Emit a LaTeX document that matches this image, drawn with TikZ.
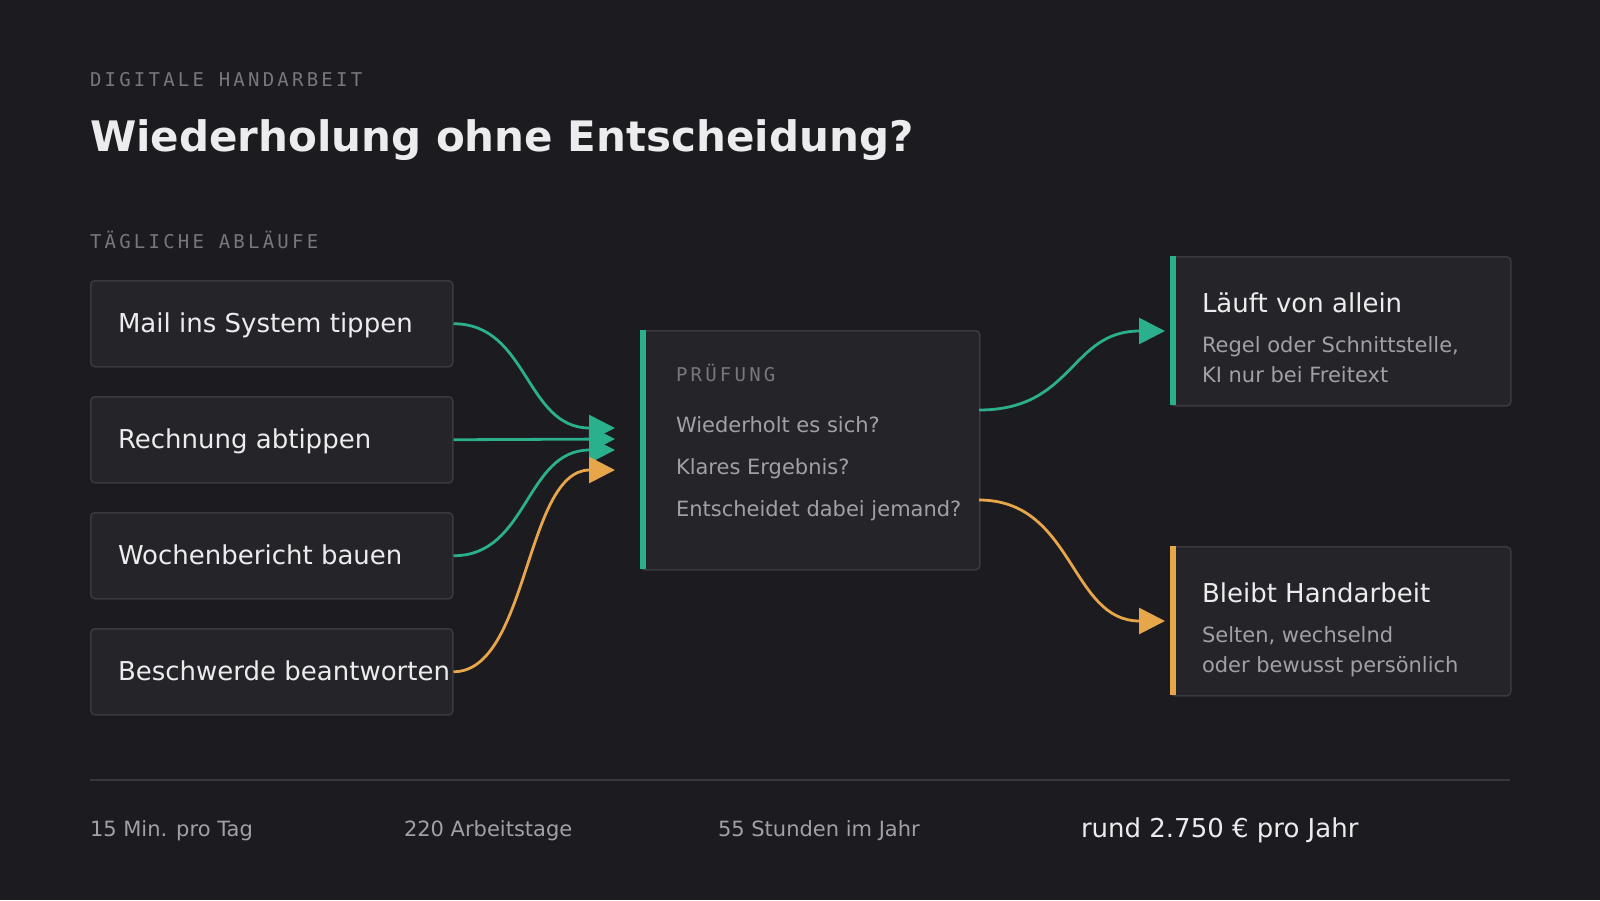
\documentclass[tikz,border=0pt]{standalone}
\usepackage{fontspec}
\setmainfont{DejaVu Sans}
\newfontfamily\labelfont[LetterSpace=17]{DejaVu Sans Mono}
\usetikzlibrary{arrows.meta,calc}
\definecolor{bg}{HTML}{1C1B20}
\definecolor{boxfill}{HTML}{252429}
\definecolor{boxline}{HTML}{3A393F}
\definecolor{accgreen}{HTML}{2BB08D}
\definecolor{accorange}{HTML}{E8A64A}
\definecolor{txtwhite}{HTML}{ECECEE}
\definecolor{txtgray}{HTML}{A0A0A6}
\definecolor{txtlabel}{HTML}{77777D}
\definecolor{rulecol}{HTML}{38383E}
\tikzset{
  card/.style={draw=boxline, line width=1.5pt, fill=boxfill, rounded corners=4pt, anchor=north west, inner sep=0pt},
  txt/.style={anchor=base west, inner sep=0pt, outer sep=0pt},
  kicker/.style={txt, text=txtlabel, font=\labelfont\fontsize{19}{22}\selectfont},
  itemtxt/.style={txt, text=txtwhite, font=\fontsize{26}{30}\selectfont},
  qtxt/.style={txt, text=txtgray, font=\fontsize{21}{25}\selectfont},
  foottxt/.style={txt, text=txtgray, font=\fontsize{21}{25}\selectfont},
  flow/.style={line width=2.8pt, -{Triangle[length=26pt,width=26pt]}},
}
\begin{document}
\begin{tikzpicture}[x=1pt,y=-1pt]
\fill[bg] (0,0) rectangle (1600,900);
\useasboundingbox (0,0) rectangle (1600,900);

% header
\node[kicker] (kick) at (90,86) {DIGITALE HANDARBEIT};
\node[txt, text=txtwhite, font=\fontsize{42}{50}\selectfont\bfseries] (title) at (90,151) {Wiederholung ohne Entscheidung?};
\node[kicker] (kick2) at (90,248) {TÄGLICHE ABLÄUFE};

% left cards
\node[card, minimum width=362pt, minimum height=86pt] (b1) at (90,280) {};
\node[card, minimum width=362pt, minimum height=86pt] (b2) at (90,396) {};
\node[card, minimum width=362pt, minimum height=86pt] (b3) at (90,512) {};
\node[card, minimum width=362pt, minimum height=86pt] (b4) at (90,628) {};
\node[itemtxt] (t1) at (118,332) {Mail ins System tippen};
\node[itemtxt] (t2) at (118,448) {Rechnung abtippen};
\node[itemtxt] (t3) at (118,564) {Wochenbericht bauen};
\node[itemtxt] (t4) at (118,680) {Beschwerde beantworten};

% middle card
\node[card, minimum width=339pt, minimum height=239pt] (m) at (640,330) {};
\fill[accgreen] (640,330) rectangle (646,569);
\node[kicker] (mk) at (676,381) {PRÜFUNG};
\node[qtxt] (q1) at (676,432) {Wiederholt es sich?};
\node[qtxt] (q2) at (676,474) {Klares Ergebnis?};
\node[qtxt] (q3) at (676,516) {Entscheidet dabei jemand?};

% right cards
\node[card, minimum width=340pt, minimum height=149pt] (r1) at (1170,256) {};
\fill[accgreen] (1170,256) rectangle (1176,405);
\node[itemtxt] (r1t) at (1202,312) {Läuft von allein};
\node[qtxt] (r1a) at (1202,352) {Regel oder Schnittstelle,};
\node[qtxt] (r1b) at (1202,382) {KI nur bei Freitext};

\node[card, minimum width=340pt, minimum height=149pt] (r2) at (1170,546) {};
\fill[accorange] (1170,546) rectangle (1176,695);
\node[itemtxt] (r2t) at (1202,602) {Bleibt Handarbeit};
\node[qtxt] (r2a) at (1202,642) {Selten, wechselnd};
\node[qtxt] (r2b) at (1202,672) {oder bewusst persönlich};

% targets
\coordinate (e1) at (615,428);
\coordinate (e2) at (615,439);
\coordinate (e3) at (615,450);
\coordinate (e4) at (615,470);
\coordinate (o1) at (979,410);
\coordinate (o2) at (979,500);
\coordinate (f1) at (1165,331);
\coordinate (f2) at (1165,621);

% connectors
\draw[flow, accgreen] (b1.east) .. controls +(75,0) and +(-90,0) .. (e1);
\draw[flow, accgreen] (b2.east) -- (e2);
\draw[flow, accgreen] (b3.east) .. controls +(75,0) and +(-90,0) .. (e3);
\draw[flow, accorange] (b4.east) .. controls +(75,0) and +(-90,0) .. (e4);
\draw[flow, accgreen] (o1) .. controls +(95,0) and +(-95,0) .. (f1);
\draw[flow, accorange] (o2) .. controls +(95,0) and +(-95,0) .. (f2);

% footer
\draw[rulecol, line width=2pt] (90,780) coordinate (ra) -- (1510,780) coordinate (rb);
\node[foottxt] (s1) at (90,836) {15 Min. pro Tag};
\node[foottxt] (s2) at (404,836) {220 Arbeitstage};
\node[foottxt] (s3) at (718,836) {55 Stunden im Jahr};
\node[txt, text=txtwhite, font=\fontsize{26}{30}\selectfont] (s4) at (1081,837) {rund 2.750 € pro Jahr};
\end{tikzpicture}
\end{document}
